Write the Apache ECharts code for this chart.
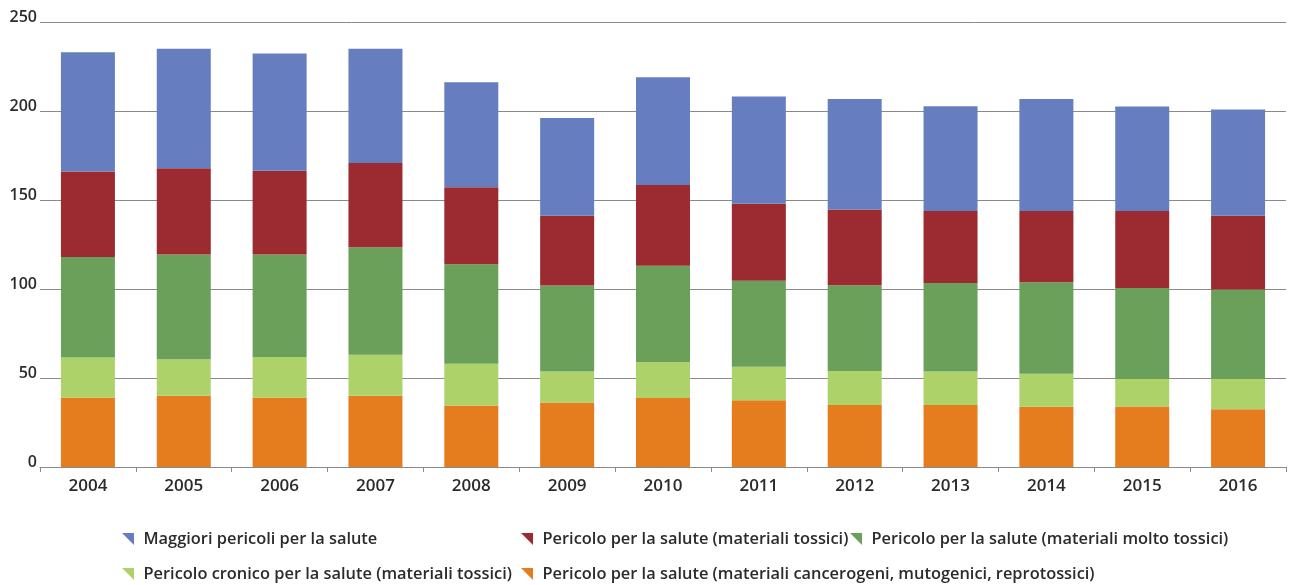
<!DOCTYPE html>
<html>
<head>
<meta charset="utf-8">
<script src="https://cdn.jsdelivr.net/npm/echarts@6/dist/echarts.min.js"></script>
<style>
html,body{margin:0;padding:0;background:#fff;}
#c{width:1297px;height:585px;}
</style>
</head>
<body>
<div id="c"></div>
<script>
const years = ['2004','2005','2006','2007','2008','2009','2010','2011','2012','2013','2014','2015','2016'];
const yTicks = [0, 50, 100, 150, 200, 250];

const nameBlue = 'Maggiori pericoli per la salute';
const nameRed = 'Pericolo per la salute (materiali tossici)';
const nameGreen = 'Pericolo per la salute (materiali molto tossici)';
const nameLight = 'Pericolo cronico per la salute (materiali tossici)';
const nameOrange = 'Pericolo per la salute (materiali cancerogeni, mutogenici, reprotossici)';

const orangeVals = [39, 40, 39, 40, 34.5, 36.2, 38.7, 37.5, 34.9, 34.9, 33.8, 34, 32.5];
const lightVals  = [22.5, 20.6, 22.8, 23, 23.5, 17.5, 20.3, 18.8, 19, 18.8, 18.6, 15.5, 17];
const greenVals  = [56.5, 58.8, 57.6, 60.5, 55.9, 48.2, 54, 48.4, 48.2, 49.7, 51.4, 51.1, 50.2];
const redVals    = [48, 48.4, 47.1, 47.3, 43.2, 39.3, 45.4, 43.2, 42.6, 40.4, 40, 43.2, 41.5];
const blueVals   = [67, 67.2, 65.8, 64.2, 59.1, 54.9, 60.6, 60.3, 62.1, 58.9, 63, 58.7, 59.6];

const colors = {
  blue: '#667ec0', red: '#9b2b30', green: '#6aa05a', light: '#add269', orange: '#e57c1e'
};

const FONT = 'Open Sans';
const TXT = '#2b2b2b';
const tri = 'path://M0,0 L10,0 L10,10 Z';

function bar(name, data, color) {
  return {
    name: name, type: 'bar', stack: 'total', data: data, barWidth: 54,
    itemStyle: { color: color }, emphasis: { disabled: true }
  };
}

function leg(name, left, top) {
  return {
    data: [name], left: left, top: top, orient: 'horizontal',
    icon: tri, itemWidth: 13, itemHeight: 12, padding: 0,
    selectedMode: false,
    textStyle: { fontFamily: FONT, fontSize: 16.4, fontWeight: 600, color: TXT, padding: [0, 0, 0, 4], lineHeight: 18 }
  };
}

const chart = echarts.init(document.getElementById('c'), null, { renderer: 'canvas' });
chart.setOption({
  animation: false,
  backgroundColor: '#fff',
  grid: { left: 40, right: 11, top: 22, bottom: 118, containLabel: false },
  xAxis: {
    type: 'category', data: years,
    axisLine: { lineStyle: { color: '#8a8a8a', width: 1 } },
    axisTick: { show: true, length: 5, lineStyle: { color: '#8a8a8a' } },
    axisLabel: { fontFamily: FONT, fontSize: 17, fontWeight: 600, color: TXT, margin: 11 }
  },
  yAxis: {
    type: 'value', min: yTicks[0], max: yTicks[yTicks.length - 1], interval: 50,
    axisLine: { show: false }, axisTick: { show: false },
    splitLine: { lineStyle: { color: '#8a8a8a', width: 1 } },
    axisLabel: { fontFamily: FONT, fontSize: 16, fontWeight: 600, color: TXT, margin: 3, verticalAlign: 'bottom', lineHeight: 9 }
  },
  legend: [
    leg(nameBlue, 122, 530),
    leg(nameRed, 521, 530),
    leg(nameGreen, 850, 530),
    leg(nameLight, 122, 565),
    leg(nameOrange, 521, 565)
  ],
  series: [
    bar(nameOrange, orangeVals, colors.orange),
    bar(nameLight, lightVals, colors.light),
    bar(nameGreen, greenVals, colors.green),
    bar(nameRed, redVals, colors.red),
    bar(nameBlue, blueVals, colors.blue)
  ]
});
</script>
</body>
</html>
